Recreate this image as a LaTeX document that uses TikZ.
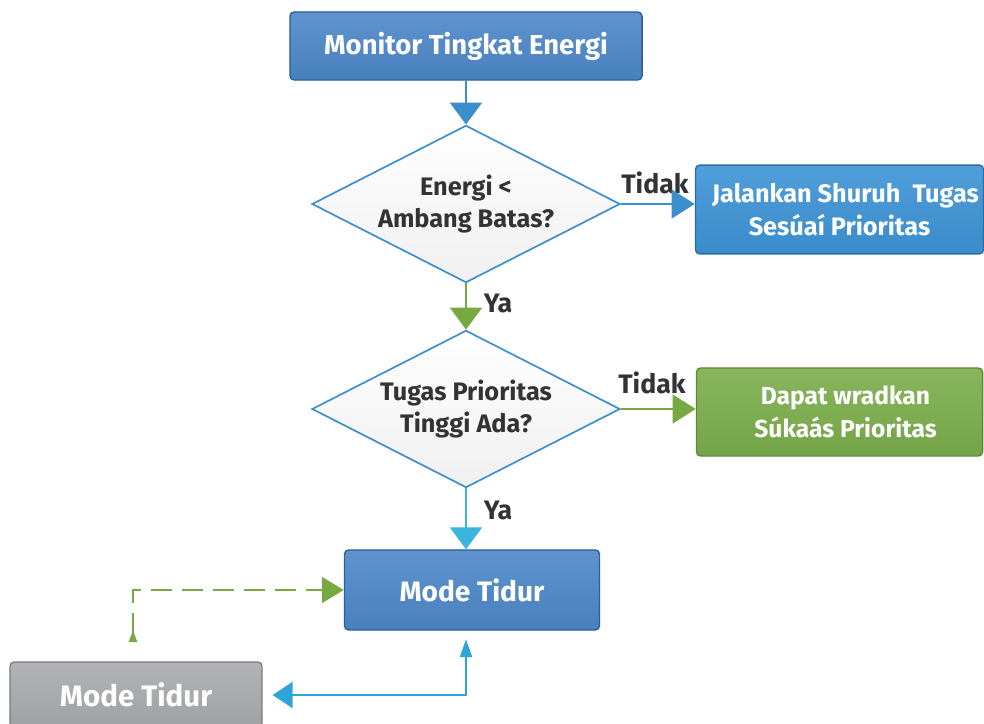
\documentclass[tikz,border=0pt]{standalone}
\usepackage{fontspec}
\setmainfont{Fira Sans}
\usetikzlibrary{shapes.geometric,arrows.meta}
\definecolor{boxblue}{HTML}{4C87C8}
\definecolor{boxbluedk}{HTML}{2F5F96}
\definecolor{skyblue}{HTML}{3D93D5}
\definecolor{skybluedk}{HTML}{2C6DA6}
\definecolor{leafgreen}{HTML}{7BAD4B}
\definecolor{leafgreendk}{HTML}{5C8838}
\definecolor{stonegray}{HTML}{A8AAAD}
\definecolor{stonegraydk}{HTML}{7B7D80}
\definecolor{lineblue}{HTML}{3A8FCC}
\definecolor{linegreen}{HTML}{78A841}
\definecolor{linecyan}{HTML}{3BB4DE}
\definecolor{txtgray}{HTML}{333333}
\begin{document}
\begin{tikzpicture}[
x=0.025cm, y=-0.025cm,
box/.style={rectangle, rounded corners=3pt, line width=1pt, text=white, align=center, font=\fontsize{18}{23}\selectfont\bfseries},
bluebox/.style={box, draw=boxbluedk, top color=boxblue!90!white, bottom color=boxblue!95!black},
skybox/.style={box, draw=skybluedk, top color=skyblue!90!white, bottom color=skyblue!95!black},
greenbox/.style={box, draw=leafgreendk, top color=leafgreen!90!white, bottom color=leafgreen!95!black},
graybox/.style={box, draw=stonegraydk, top color=stonegray!90!white, bottom color=stonegray!95!black},
decision/.style={diamond, aspect=2, draw=lineblue, line width=1.2pt, top color=white, bottom color=gray!12, inner sep=0pt, minimum width=7.7cm, minimum height=3.93cm, text=txtgray, align=center, font=\fontsize{18}{23}\selectfont\bfseries},
label/.style={text=txtgray, font=\fontsize{19}{22}\selectfont\bfseries},
arrow/.style={line width=1.8pt, -{Triangle[width=0.8cm, length=0.55cm]}},
]
\useasboundingbox (0,0) rectangle (984,723);
\clip (0,0) rectangle (984,723);
%Nodes
\node[bluebox, minimum width=8.8cm, minimum height=1.7cm, font=\fontsize{19.5}{23}\selectfont\bfseries] at (466,46) (mon) {Monitor Tingkat Energi};
\node[decision] at (466,204) (d1) {Energi <\\Ambang Batas?};
\node[skybox, minimum width=7.15cm, minimum height=2.22cm] at (839.5,209.5) (run) {\hspace*{0.3cm}Jalankan Shuruh\ \ Tugas\\Sesúaí Prioritas};
\node[decision] at (466,409) (d2) {Tugas Prioritas\\Tinggi Ada?};
\node[greenbox, minimum width=7.15cm, minimum height=2.2cm, font=\fontsize{17.5}{23}\selectfont\bfseries] at (839.5,412) (dap) {\hspace*{0.3cm}Dapat wradkan\\\hspace*{0.3cm}Súkaás Prioritas};
\node[bluebox, minimum width=6.375cm, minimum height=2cm, font=\fontsize{20}{24}\selectfont\bfseries] at (472,590) (mode) {Mode Tidur};
\node[graybox, minimum width=6.3cm, minimum height=1.65cm, font=\fontsize{21}{24}\selectfont\bfseries] at (136,695) (modeb) {Mode Tidur};
\coordinate (dash) at (133,642);
%Labels
\node[label] at (655,183) (t1) {Tidak};
\node[label] at (652,383) (t2) {Tidak};
\node[label] at (498,303) (y1) {Ya};
\node[label] at (498,510) (y2) {Ya};
%Lines
\draw[arrow, lineblue] (mon.south) -- (d1.north);
\draw[arrow, lineblue, -{Triangle[width=0.72cm, length=0.58cm]}] (d1.east) -- (d1.east -| run.west);
\draw[arrow, linegreen] (d1.south) -- (d2.north);
\draw[arrow, linegreen, -{Triangle[width=0.72cm, length=0.58cm]}] (d2.east) -- (d2.east -| dap.west);
\draw[arrow, linecyan] (d2.south) -- (d2.south |- mode.north);
\draw[line width=1.5pt, lineblue!80!cyan, {Triangle[width=0.65cm, length=0.5cm]}-{Triangle[width=0.3cm, length=0.45cm]}, shorten <=7pt, shorten >=6pt] (modeb.east) -| (d2.south |- mode.south);
\draw[line width=1.5pt, linegreen, dash pattern=on 15pt off 7pt, {Triangle[reversed, width=0.2cm, length=0.3cm]}-{Triangle[width=0.65cm, length=0.55cm]}] (dash) |- (mode.west);
\end{tikzpicture}
\end{document}
